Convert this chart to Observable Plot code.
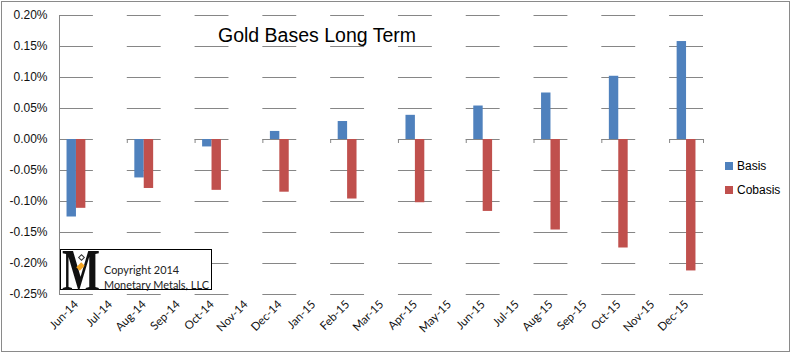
<!DOCTYPE html>
<html><head><meta charset="utf-8">
<script src="https://cdn.jsdelivr.net/npm/d3@7"></script>
<script src="https://cdn.jsdelivr.net/npm/@observablehq/plot@0.6"></script>
<style>
body{margin:0;background:#fff;}
#wrap{position:relative;width:792px;height:354px;overflow:hidden;font-family:"Liberation Sans",Arial,sans-serif;background:#fff;}
#wrap svg{position:absolute;left:0;top:0;}
#border{position:absolute;left:1px;top:1px;width:787px;height:349px;border:1px solid #8a8a8a;pointer-events:none;}
#title{position:absolute;left:218px;top:25px;font-size:19.5px;line-height:20px;color:#000;white-space:nowrap;}
.leg{position:absolute;left:725px;font-size:12px;line-height:12px;white-space:nowrap;color:#000;}
.leg i{display:inline-block;width:8px;height:8px;margin-right:4px;vertical-align:0px;}
#logo{position:absolute;left:60px;top:249px;width:150px;height:39px;border:1px solid #000;background:#fff;}
#logoM{position:absolute;left:1px;top:-10px;font-family:"Liberation Serif",serif;font-weight:bold;font-size:60px;line-height:60px;transform:scaleX(0.67);transform-origin:left top;color:#111;}
#logoT{position:absolute;left:43px;top:12px;font-family:Lato,"Open Sans",sans-serif;font-size:10.9px;line-height:15px;color:#222;white-space:nowrap;}
#gem{position:absolute;left:17px;top:13px;width:5px;height:7px;background:#f5a623;transform:rotate(45deg);}
#gem2{position:absolute;left:17.5px;top:5px;width:3px;height:3px;border:1px solid #333;transform:rotate(45deg);}
</style></head><body><div id="wrap"></div>
<script>
const months = ["Jun-14","Jul-14","Aug-14","Sep-14","Oct-14","Nov-14","Dec-14","Jan-15","Feb-15","Mar-15","Apr-15","May-15","Jun-15","Jul-15","Aug-15","Sep-15","Oct-15","Nov-15","Dec-15"];
const barMonths = ["Jun-14","Aug-14","Oct-14","Dec-14","Feb-15","Apr-15","Jun-15","Aug-15","Oct-15","Dec-15"];
const basis = [-0.125, -0.062, -0.012, 0.013, 0.029, 0.039, 0.054, 0.075, 0.102, 0.158];
const cobasis = [-0.111, -0.079, -0.082, -0.085, -0.096, -0.102, -0.116, -0.146, -0.175, -0.212];
const seriesNames = ["Basis","Cobasis"];
const seriesColors = ["#4F81BD","#C0504D"];
const yTicks = [-0.25,-0.20,-0.15,-0.10,-0.05,0,0.05,0.10,0.15,0.20];

const data = barMonths.flatMap((m,i)=>[
  {month:m, series:"Basis", value:basis[i]},
  {month:m, series:"Cobasis", value:cobasis[i]}
]);

const W = 792, H = 354, ML = 59, MR = 89, MT = 15, MB = 60;
const half = (W - ML - MR) / months.length / 2; // half a category band, in px
const grid = "#868686";
const chart = Plot.plot({
  width:W, height:H,
  marginLeft:ML, marginRight:MR, marginTop:MT, marginBottom:MB,
  style:{background:"transparent", fontFamily:"'Liberation Sans',Arial,sans-serif", fontSize:"12px", color:"#000", overflow:"visible"},
  fx:{domain:months, padding:0, round:false, label:null, axis:null},
  x:{domain:seriesNames, paddingInner:0, paddingOuter:0.8, axis:null, round:false},
  y:{domain:[-0.25,0.20], axis:null},
  color:{domain:seriesNames, range:seriesColors},
  marks:[
    Plot.ruleY(yTicks, {stroke:grid, strokeOpacity:1, strokeWidth:1}),
    // vertical value axis line
    Plot.ruleX([0], {x:null, dx:-half, stroke:grid, strokeOpacity:1, facetAnchor:"left"}),
    // category boundary ticks on the zero line
    Plot.ruleX([0], {x:null, y1:d=>d, y2:d=>d, insetBottom:-4, dx:-half, stroke:grid, strokeOpacity:1}),
    Plot.ruleX([0], {x:null, y1:d=>d, y2:d=>d, insetBottom:-4, dx:half, stroke:grid, strokeOpacity:1, facetAnchor:"right"}),
    Plot.barY(data, {fx:"month", x:"series", y:"value", fill:"series"}),
    Plot.axisY(yTicks, {tickSize:0, tickPadding:12, tickFormat:d=>d.toFixed(2)+"%", label:null, fontSize:12, fill:"#111", facetAnchor:"left"}),
    Plot.axisFx({anchor:"bottom", tickRotate:-45, tickSize:0, tickPadding:8, label:null, fontFamily:"Lato,'Open Sans',sans-serif", fontSize:11.5, fill:"#111"})
  ]
});
const wrap = document.getElementById("wrap");
wrap.appendChild(chart);
wrap.insertAdjacentHTML("beforeend", `
<div id="title">Gold Bases Long Term</div>
<div class="leg" style="top:160px"><i style="background:${seriesColors[0]}"></i>${seriesNames[0]}</div>
<div class="leg" style="top:184px"><i style="background:${seriesColors[1]}"></i>${seriesNames[1]}</div>
<div id="logo"><div id="logoM">M</div><div id="gem2"></div><div id="gem"></div><div id="logoT">Copyright 2014<br>Monetary Metals, LLC</div></div>
<div id="border"></div>`);
</script>
</body></html>
